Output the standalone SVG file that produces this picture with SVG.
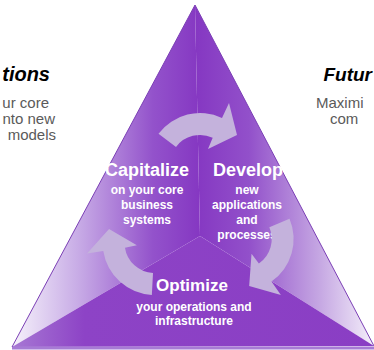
<svg xmlns="http://www.w3.org/2000/svg" width="374" height="350" viewBox="0 0 374 350">
<defs>
<linearGradient id="gL" gradientUnits="userSpaceOnUse" x1="12" y1="0" x2="200" y2="0">
<stop offset="0" stop-color="#f6f2fb"/>
<stop offset="0.35" stop-color="#c8ace6"/>
<stop offset="0.75" stop-color="#9352cb"/>
<stop offset="1" stop-color="#8537c2"/>
</linearGradient>
<linearGradient id="gR" gradientUnits="userSpaceOnUse" x1="195" y1="0" x2="374" y2="0">
<stop offset="0" stop-color="#8537c2"/>
<stop offset="0.3" stop-color="#9250ca"/>
<stop offset="0.7" stop-color="#c6a8e3"/>
<stop offset="1" stop-color="#f4effa"/>
</linearGradient>
<linearGradient id="gB" gradientUnits="userSpaceOnUse" x1="12" y1="0" x2="374" y2="0">
<stop offset="0" stop-color="#a778d4"/>
<stop offset="0.2" stop-color="#8d43c6"/>
<stop offset="1" stop-color="#8a3ec4"/>
</linearGradient>
<path id="arr" d="M158.5,133.7 A52,52 0 0 1 222,117.9 L229,103 L237,135 L208,149 L212.7,137.8 A30,30 0 0 0 176,146.9 Z"/>
</defs>
<style>
.hd{font-family:"Liberation Sans",Arial,sans-serif;font-weight:bold;font-style:italic;font-size:20px;fill:#000}
.sd{font-family:"Liberation Sans",Arial,sans-serif;font-size:15px;fill:#5a5a5a}
.t1{font-family:"Liberation Sans",Arial,sans-serif;font-weight:bold;font-size:18px;fill:#fff;text-anchor:middle}
.t2{font-family:"Liberation Sans",Arial,sans-serif;font-weight:bold;font-size:12px;fill:#fff;text-anchor:middle}
.ar{fill:#c4b2dc}
</style>
<rect width="374" height="350" fill="#fff"/>
<g id="side-left">
<text class="hd" x="50" y="81" text-anchor="end">tions</text>
<text class="sd" x="49" y="108" text-anchor="end">ur core</text>
<text class="sd" x="55" y="124" text-anchor="end">nto new</text>
<text class="sd" x="56" y="140" text-anchor="end">models</text>
</g>
<g id="side-right">
<text class="hd" x="372" y="81" text-anchor="end" style="font-size:19px">Futur</text>
<text class="sd" x="316" y="108">Maximi</text>
<text class="sd" x="330" y="124">com</text>
</g>
<g id="pyramid">
<polygon points="195,5 200,236 12,347" fill="url(#gL)"/>
<polygon points="195,5 374,346 200,236" fill="url(#gR)"/>
<polygon points="12,347 200,236 374,346" fill="url(#gB)"/>
<rect x="12" y="346.5" width="362" height="3" fill="#a77bd5"/>
<polyline points="12,347 195,5 374,346" fill="none" stroke="#7b3fb5" stroke-width="1"/>
</g>
<g id="capitalize">
<text class="t1" x="147" y="176">Capitalize</text>
<text class="t2" x="147" y="194">on your core</text>
<text class="t2" x="147" y="209">business</text>
<text class="t2" x="147" y="224">systems</text>
</g>
<g id="develop">
<text class="t1" x="248" y="176">Develop</text>
<text class="t2" x="247" y="194">new</text>
<text class="t2" x="247" y="209">applications</text>
<text class="t2" x="247" y="224">and</text>
<text class="t2" x="247" y="239">processes</text>
</g>
<g id="optimize">
<text class="t1" x="192" y="291" style="font-size:17px">Optimize</text>
<text class="t2" x="194" y="311">your operations and</text>
<text class="t2" x="194" y="325">infrastructure</text>
</g>
<g id="connectors">
<use href="#arr" class="ar"/>
<use href="#arr" class="ar" transform="rotate(120 199.5 214)"/>
<use href="#arr" class="ar" transform="translate(-4 2) rotate(236 199.5 214)"/>
</g>
</svg>
